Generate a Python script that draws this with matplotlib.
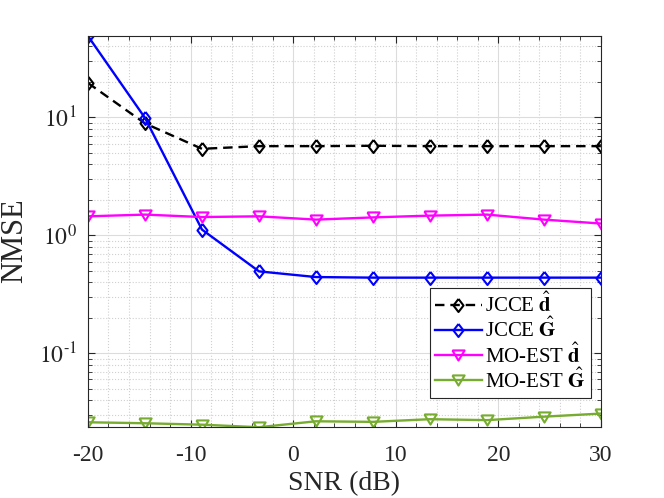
import matplotlib
matplotlib.use("Agg")
import matplotlib.pyplot as plt
from matplotlib.ticker import MultipleLocator, LogLocator, NullFormatter, FuncFormatter
import numpy as np

plt.rcParams['font.family'] = ['Liberation Serif', 'DejaVu Serif']
plt.rcParams['mathtext.fontset'] = 'stix'
plt.rcParams['axes.unicode_minus'] = False

snr = [-20, -14.44, -8.89, -3.33, 2.22, 7.78, 13.33, 18.89, 24.44, 30]

jcce_d = [19.6, 8.9, 5.42, 5.71, 5.71, 5.75, 5.71, 5.71, 5.71, 5.71]
jcce_g = [49.0, 9.9, 1.12, 0.495, 0.443, 0.438, 0.438, 0.438, 0.438, 0.438]
moest_d = [1.45, 1.50, 1.43, 1.45, 1.36, 1.42, 1.47, 1.50, 1.36, 1.26]
moest_g = [0.0260, 0.0255, 0.0248, 0.0236, 0.0265, 0.0262, 0.0276, 0.0271, 0.0290, 0.0308]

labels = [r'JCCE $\hat{\mathbf{d}}$', r'JCCE $\hat{\mathbf{G}}$',
          r'MO-EST $\hat{\mathbf{d}}$', r'MO-EST $\hat{\mathbf{G}}$']

# MATLAB-like marker shapes
diamond = [(0, 1), (0.77, 0), (0, -1), (-0.77, 0), (0, 1)]
tri_down = [(-1, 0.83), (1, 0.83), (0, -0.83), (-1, 0.83)]

fig = plt.figure(figsize=(6.64, 4.98), dpi=100)
ax = fig.add_axes([0.1325, 0.143, 0.7725, 0.785])

lw = 1.7
mew = 1.5
ax.plot(snr, jcce_d, color='black', dashes=[4, 2.5], marker=diamond, ms=9.4, mfc='none', mew=mew, lw=lw, label=labels[0])
ax.plot(snr, jcce_g, '-', color='blue', marker=diamond, ms=9.4, mfc='none', mew=mew, lw=lw, label=labels[1])
ax.plot(snr, moest_d, '-', color='magenta', marker=tri_down, ms=8.8, mfc='none', mew=mew, lw=lw, label=labels[2])
ax.plot(snr, moest_g, '-', color='#77AC30', marker=tri_down, ms=8.8, mfc='none', mew=mew, lw=lw, label=labels[3])

ax.set_yscale('log')
ax.set_xlim(-20, 30)
ax.set_ylim(0.0238, 49.2)

ax.xaxis.set_major_locator(MultipleLocator(10))
ax.xaxis.set_minor_locator(MultipleLocator(2))
ax.yaxis.set_major_locator(LogLocator(base=10, numticks=10))
ax.yaxis.set_minor_locator(LogLocator(base=10, subs=range(2, 10), numticks=20))
ax.yaxis.set_minor_formatter(NullFormatter())
ax.yaxis.set_major_formatter(FuncFormatter(
    lambda v, p: r'$10^{%s}$' % (r'\text{-}%d' % -round(np.log10(v)) if v < 1 else '%d' % round(np.log10(v)))))

ax.grid(True, which='major', color='#dcdcdc', linestyle='-', linewidth=0.8)
ax.grid(True, which='minor', color='#d0d0d0', linestyle=':', linewidth=0.8)
ax.set_axisbelow(True)

ax.tick_params(which='both', direction='in', top=True, right=True, colors='#262626', labelsize=17)
ax.tick_params(which='major', length=5)
ax.tick_params(which='minor', length=3)
ax.tick_params(axis='x', which='major', pad=13)
ax.tick_params(axis='y', which='major', pad=8)
for s in ax.spines.values():
    s.set_color('#262626')
    s.set_linewidth(0.8)

ax.set_xlabel('SNR (dB)', fontsize=20, color='#262626', labelpad=4)
ax.set_ylabel('NMSE', fontsize=22, color='#262626')
ax.yaxis.set_label_coords(-0.115, 0.476)

leg = ax.legend(loc='lower right', bbox_to_anchor=(0.98, 0.074), fontsize=15, fancybox=False,
                edgecolor='#262626', framealpha=1, handlelength=2.25, handletextpad=0.15,
                borderpad=0.25, labelspacing=0.05, borderaxespad=0)
leg.get_frame().set_linewidth(0.8)

fig.savefig('out.png', dpi=100)
